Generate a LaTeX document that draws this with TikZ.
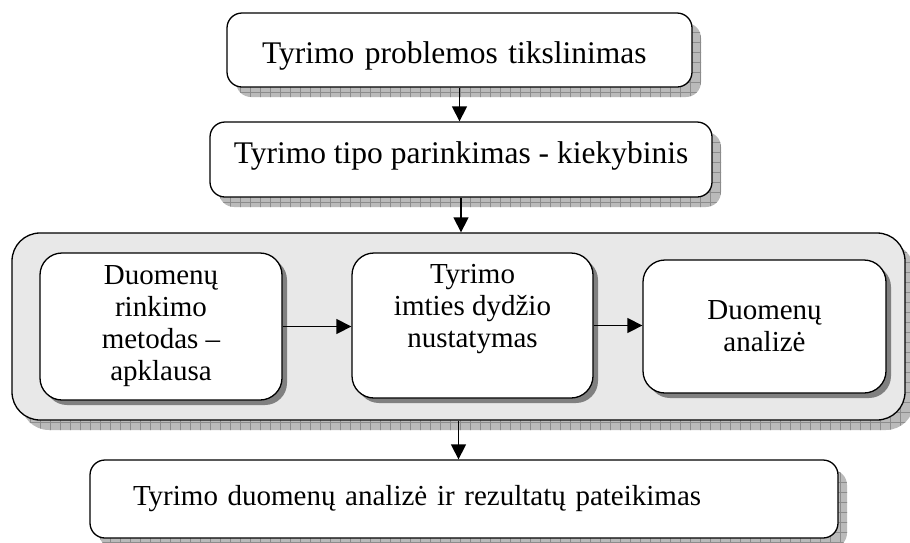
\documentclass[tikz,border=0pt]{standalone}
\usepackage{fontspec}
\setmainfont{Liberation Serif}
\usetikzlibrary{arrows.meta,shadows,patterns}

% square grid used for the hatched drop shadows
\pgfdeclarepatternformonly{cellgrid}{\pgfqpoint{-1pt}{-1pt}}{\pgfqpoint{11pt}{11pt}}{\pgfqpoint{10pt}{10pt}}{%
  \pgfsetlinewidth{0.7pt}%
  \pgfpathmoveto{\pgfqpoint{0pt}{0pt}}\pgfpathlineto{\pgfqpoint{10pt}{0pt}}%
  \pgfpathmoveto{\pgfqpoint{0pt}{0pt}}\pgfpathlineto{\pgfqpoint{0pt}{10pt}}%
  \pgfusepath{stroke}}

\tikzset{
  bodyfont/.style={font=\fontsize{29}{32}\selectfont},
  largefont/.style={font=\fontsize{31.5}{35}\selectfont},
  gridshadow/.style={
    general shadow={shadow xshift=9pt,shadow yshift=-10pt,fill=black!27},
    general shadow={shadow xshift=9pt,shadow yshift=-10pt,pattern=cellgrid,pattern color=black!45}},
  bigbox/.style={draw, line width=1.3pt, rounded corners=15pt, fill=white,
    gridshadow, inner sep=0pt, bodyfont},
  innerbox/.style={draw, line width=1.3pt, rounded corners=22pt, fill=white,
    general shadow={shadow xshift=5pt,shadow yshift=-5pt,fill=black!50},
    inner sep=0pt, align=center, bodyfont},
  panel/.style={draw, line width=1.3pt, rounded corners=28pt, fill=black!9,
    gridshadow, inner sep=0pt},
  link/.style={line width=1.3pt, -{Triangle[length=15pt,width=15pt]}}
}

\begin{document}
\begin{tikzpicture}[x=1pt,y=-1pt]
  \useasboundingbox (0,0) rectangle (910,542);

  % top steps
  \node[bigbox, largefont, minimum height=74pt, text height=33.5pt,
        text width=395pt, inner xsep=35pt, align=left]
    (problem) at (459.5,50) {Tyrimo problemos tikslinimas};
  \node[bigbox, largefont, minimum width=502pt, minimum height=75pt, text depth=14.5pt]
    (type) at (461,159.5) {Tyrimo tipo parinkimas - kiekybinis};

  % grouped stage
  \node[panel, minimum width=893pt, minimum height=187pt]
    (stage) at (458.5,326.5) {};
  \node[innerbox, minimum width=242pt, minimum height=147pt]
    (collect) at (161,326.5) {Duomenų\\rinkimo\\metodas –\\apklausa};
  \node[innerbox, minimum width=241pt, minimum height=145pt, text depth=38.8pt]
    (sample) at (472.5,325.5) {Tyrimo\\imties dydžio\\nustatymas};
  \node[innerbox, minimum width=243pt, minimum height=133pt]
    (analysis) at (764.5,326.5) {Duomenų\\analizė};

  % final step
  \node[bigbox, minimum height=78pt, text width=662pt, inner xsep=43pt, align=left]
    (results) at (464,499) {Tyrimo duomenų analizė ir rezultatų pateikimas};

  % connectors
  \draw[link] (problem.south) -- (problem.south |- type.north);
  \draw[link] (type.south) -- (type.south |- stage.north);
  \draw[link] (collect.east) -- (collect.east -| sample.west);
  \draw[link] (sample.east) -- (sample.east -| analysis.west);
  \draw[link] (stage.south) -- (stage.south |- results.north);
\end{tikzpicture}
\end{document}
